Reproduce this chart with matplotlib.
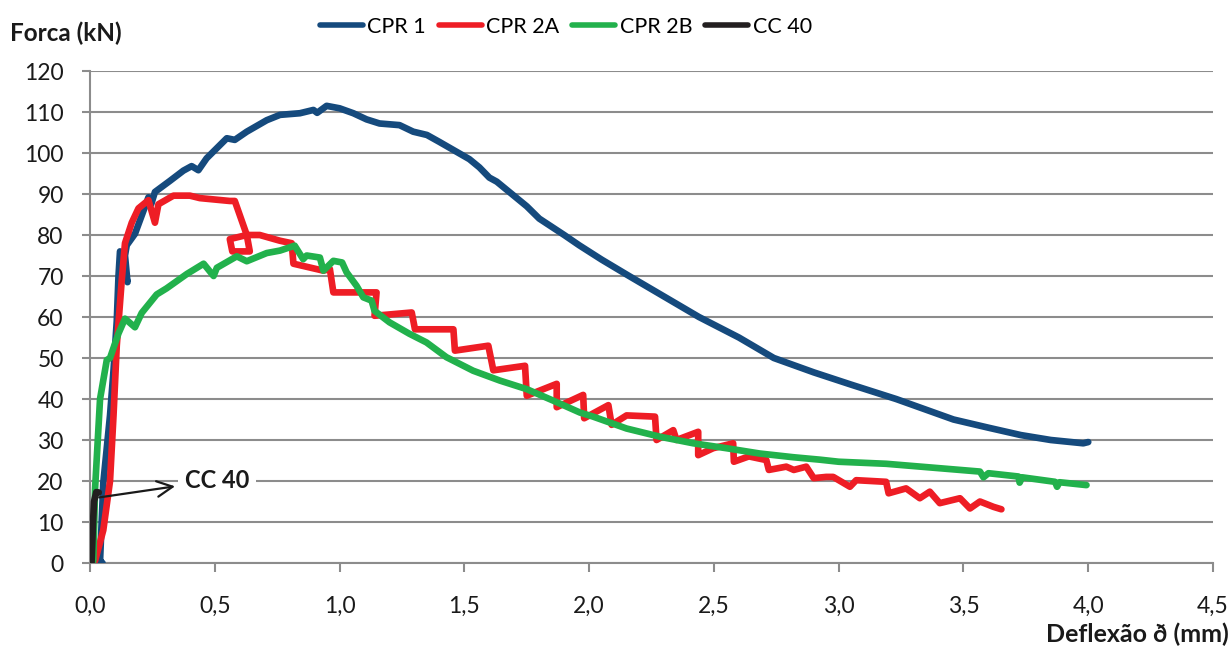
import matplotlib
matplotlib.use("Agg")
import matplotlib.pyplot as plt

plt.rcParams['font.family'] = ['Lato', 'DejaVu Sans']

# --- data (deflexão mm, força kN) ---
cpr1_x = [0.03, 0.05, 0.04, 0.053, 0.08, 0.094, 0.107, 0.114, 0.12, 0.15, 0.14,
          0.147, 0.18, 0.234, 0.245, 0.26, 0.32, 0.374, 0.407, 0.434, 0.467,
          0.548, 0.58, 0.628, 0.708, 0.761, 0.841, 0.895, 0.91, 0.948, 1.0,
          1.055, 1.108, 1.16, 1.24, 1.295, 1.35, 1.40, 1.48, 1.52, 1.56, 1.6,
          1.63, 1.68, 1.75, 1.8, 1.9, 1.96, 2.05, 2.16, 2.3, 2.44, 2.6, 2.74,
          2.9, 3.05, 3.23, 3.46, 3.6, 3.73, 3.85, 3.98, 4.0]
cpr1_y = [0.3, 0.0, 0.5, 19.5, 36, 47, 59, 70, 76, 68.5, 75,
          77.5, 80.3, 89.2, 87.5, 90.5, 93.2, 95.7, 96.8, 95.8, 98.7,
          103.6, 103.2, 105.2, 108, 109.3, 109.7, 110.5, 109.8, 111.5, 110.9,
          109.7, 108.2, 107.2, 106.8, 105.2, 104.4, 102.7, 99.9, 98.5, 96.5, 94,
          93, 90.5, 87, 84, 80, 77.5, 74, 70, 65, 60, 55, 50,
          46.5, 43.5, 40, 35, 33, 31.2, 30, 29.2, 29.5]

cpr2a_x = [0.02, 0.053, 0.08, 0.094, 0.107, 0.127, 0.14, 0.167, 0.194, 0.234,
           0.26, 0.274, 0.334, 0.40, 0.44, 0.56, 0.58, 0.628, 0.56, 0.57, 0.64,
           0.628, 0.68, 0.761, 0.808, 0.815, 0.935, 0.961, 0.975, 1.135, 1.148,
           1.14, 1.289, 1.302, 1.456, 1.462, 1.596, 1.616, 1.743, 1.75, 1.87,
           1.87, 1.976, 1.98, 2.077, 2.09, 2.15, 2.264, 2.27, 2.337, 2.35,
           2.437, 2.437, 2.497, 2.577, 2.58, 2.64, 2.71, 2.72, 2.79, 2.82,
           2.87, 2.9, 2.95, 2.978, 3.045, 3.07, 3.19, 3.2, 3.27, 3.325, 3.365,
           3.405, 3.486, 3.526, 3.566, 3.62, 3.652]
cpr2a_y = [0.5, 8, 20, 36, 53, 69, 78, 83, 86.5, 88.5,
           83, 87.5, 89.6, 89.6, 89, 88.3, 88.3, 80, 79, 76, 76,
           80, 80, 78.6, 78, 73, 71.3, 71.7, 66, 66, 66,
           60.3, 61.1, 57, 57, 51.8, 53, 47, 48.1, 40.8, 43.7,
           38, 41, 35.3, 38.5, 33.7, 36, 35.7, 30, 32.4, 30,
           32, 26.3, 28, 29.2, 24.7, 26, 25.1, 22.7, 23.5, 22.7,
           23.5, 20.7, 21, 21, 18.6, 20.2, 19.8, 17, 18.2, 15.8, 17.4,
           14.6, 15.8, 13.3, 15, 13.7, 13.1]

cpr2b_x = [0.013, 0.02, 0.04, 0.067, 0.08, 0.114, 0.14, 0.18, 0.207, 0.267,
           0.307, 0.388, 0.455, 0.495, 0.508, 0.588, 0.628, 0.708, 0.761, 0.82,
           0.854, 0.868, 0.921, 0.935, 0.975, 1.01, 1.028, 1.068, 1.095, 1.128,
           1.14, 1.2, 1.28, 1.348, 1.428, 1.535, 1.642, 1.75, 1.856, 1.963,
           2.016, 2.15, 2.284, 2.417, 2.55, 2.684, 2.818, 2.925, 3.0, 3.19,
           3.566, 3.58, 3.6, 3.72, 3.725, 3.735, 3.867, 3.875, 3.885, 3.993]
cpr2b_y = [0.5, 18, 40, 49.5, 50, 56, 59.6, 57.5, 61, 65.5,
           67, 70.5, 73, 70, 72, 74.8, 73.6, 75.6, 76.2, 77.4,
           74.1, 75, 74.5, 71.3, 73.7, 73.3, 70.9, 67.6, 64.8, 64,
           61.5, 58.7, 55.9, 53.8, 50.2, 46.9, 44.5, 42.4, 39.6, 36.7,
           35.7, 32.8, 30.8, 29.2, 28, 26.7, 25.8, 25.2, 24.7, 24.2,
           22.3, 20.9, 21.9, 21.1, 19.6, 20.9, 19.8, 18.6, 19.7, 19.0]

cc40_x = [0.006, 0.012, 0.016, 0.025, 0.035]
cc40_y = [0.0, 10.0, 15.0, 17.3, 17.2]

series = [
    ("CPR 1", cpr1_x, cpr1_y, "#154A7D"),
    ("CPR 2A", cpr2a_x, cpr2a_y, "#EE1D25"),
    ("CPR 2B", cpr2b_x, cpr2b_y, "#22B14C"),
    ("CC 40", cc40_x, cc40_y, "#231F20"),
]

x_ticks = [0.0, 0.5, 1.0, 1.5, 2.0, 2.5, 3.0, 3.5, 4.0, 4.5]
y_ticks = list(range(0, 121, 10))

GRID = "#8C8C8C"
INK = "#1A1A1A"

fig = plt.figure(figsize=(12.32, 6.49), dpi=100)
ax = fig.add_axes([0.0731, 0.1325, 0.9115, 0.7581])

for name, xs, ys, color in series:
    ax.plot(xs, ys, color=color, lw=4.8, label=name,
            solid_joinstyle='round', solid_capstyle='round', zorder=3)

ax.set_xlim(0, 4.5)
ax.set_ylim(0, 120)
ax.set_xticks(x_ticks)
ax.set_xticklabels([f"{v:.1f}".replace(".", ",") for v in x_ticks])
ax.set_yticks(y_ticks)
ax.yaxis.grid(True, color=GRID, lw=1.5)
ax.set_axisbelow(True)

for side in ("top", "right"):
    ax.spines[side].set_visible(False)
for side in ("left", "bottom"):
    ax.spines[side].set_color(GRID)
    ax.spines[side].set_linewidth(1.5)

ax.tick_params(axis='x', direction='out', length=6.5, width=1.5, color=GRID,
               labelsize=16.5, pad=17, labelcolor=INK)
ax.tick_params(axis='y', direction='out', length=6, width=1.5, color=GRID,
               labelsize=16.5, pad=13, labelcolor=INK)

# CC 40 callout, arrow runs from the curve to the label
ax.annotate("CC 40", xy=(0.037, 16), xytext=(0.38, 20.2),
            fontsize=17, fontweight='bold', color=INK, va='center',
            bbox=dict(boxstyle='square,pad=0.3', fc='white', ec='none'),
            arrowprops=dict(arrowstyle='<-', color=INK, lw=1.6,
                            mutation_scale=28, shrinkA=2, shrinkB=0),
            zorder=5)

fig.text(0.008, 0.948, "Forca (kN)", fontsize=17.5, fontweight='bold',
         color=INK, va='center', ha='left')
fig.text(0.997, 0.022, "Deflexão ð (mm)", fontsize=18, fontweight='bold',
         color=INK, va='center', ha='right')

leg = fig.legend(loc='center left', bbox_to_anchor=(320 / 1232, 0.959), ncol=4,
                 frameon=False, fontsize=15.5, handlelength=2.0,
                 handletextpad=0.2, columnspacing=0.6, borderpad=0,
                 borderaxespad=0)
for line in leg.get_lines():
    line.set_linewidth(4)
    line.set_solid_capstyle('round')

fig.savefig("out.png", dpi=100)
